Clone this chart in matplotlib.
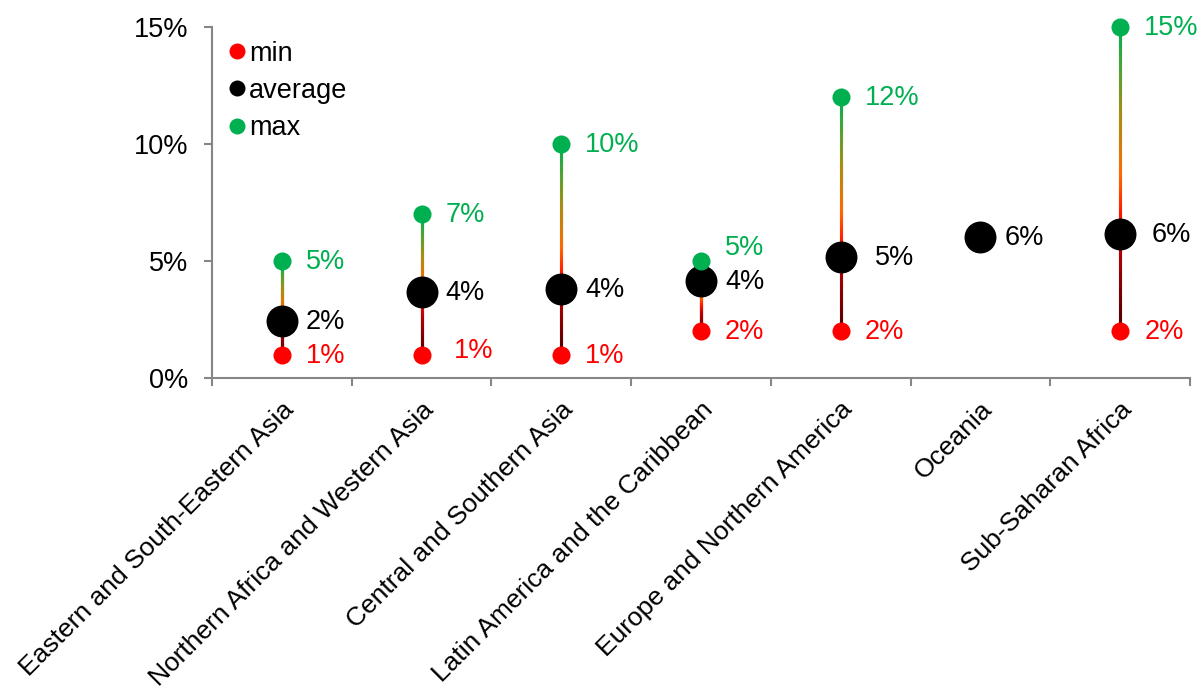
import numpy as np
import matplotlib
matplotlib.use('Agg')
import matplotlib.pyplot as plt
from matplotlib.collections import LineCollection
from matplotlib.colors import LinearSegmentedColormap
from matplotlib.lines import Line2D
import matplotlib.transforms as mtransforms

# ---------------- data ----------------
categories = [
    'Eastern and South-Eastern Asia',
    'Northern Africa and Western Asia',
    'Central and Southern Asia',
    'Latin America and the Caribbean',
    'Europe and Northern America',
    'Oceania',
    'Sub-Saharan Africa',
]
avg_values = [2.44, 3.68, 3.80, 4.15, 5.17, 6.03, 6.15]
min_values = [1.0, 1.0, 1.0, 2.0, 2.0, np.nan, 2.0]
max_values = [5.0, 7.0, 10.0, 5.0, 12.0, np.nan, 15.0]
y_ticks = [0, 5, 10, 15]
y_tick_labels = ['0%', '5%', '10%', '15%']
series_names = ['min', 'average', 'max']

# ---------------- style ----------------
RED = '#ff0000'
GREEN = '#00b050'
BLACK = '#000000'
AXIS = '#868686'
FS = 19.5
XFS = 19

plt.rcParams['font.family'] = ['Liberation Sans', 'DejaVu Sans']

fig = plt.figure(figsize=(12.01, 6.90), dpi=100)
W, H = 1201, 690
ax = fig.add_axes([212 / W, 1 - 378 / H, (1190 - 212) / W, (378 - 27) / H])

x = np.arange(len(categories))

# gradient connector lines (min -> max)
cmap = LinearSegmentedColormap.from_list('grad', [
    (0.00, '#450000'),
    (0.30, '#c00000'),
    (0.40, '#ff1a00'),
    (0.52, '#ff6a00'),
    (0.70, '#b08a10'),
    (0.85, '#5aa030'),
    (1.00, GREEN),
])
segs, cols = [], []
n = 80
for xi, lo, hi in zip(x, min_values, max_values):
    if np.isnan(lo) or np.isnan(hi):
        continue
    ys = np.linspace(lo, hi, n + 1)
    for k in range(n):
        segs.append([(xi, ys[k]), (xi, ys[k + 1])])
        cols.append(cmap((k + 0.5) / n))
ax.add_collection(LineCollection(segs, colors=cols, linewidths=2.2,
                                 capstyle='projecting', zorder=2))

# markers
ax.plot(x, avg_values, 'o', color=BLACK, ms=23, mec='none', zorder=3,
        clip_on=False)
ax.plot(x, min_values, 'o', color=RED, ms=13, mec='none', zorder=4,
        clip_on=False)
ax.plot(x, max_values, 'o', color=GREEN, ms=13, mec='none', zorder=4,
        clip_on=False)

# data labels
px = 72 / 100.0  # points per pixel
nudges = {
    ('min', 1): (8, 5),
    ('max', 3): (0, 14),
    ('avg', 4): (10, 0),
    ('avg', 6): (7, 0),
}
for name, vals, color in [('min', min_values, RED),
                          ('avg', avg_values, BLACK),
                          ('max', max_values, GREEN)]:
    for i, v in enumerate(vals):
        if np.isnan(v):
            continue
        dx, dy = nudges.get((name, i), (0, 0))
        ax.annotate(f'{int(round(v))}%', xy=(x[i], v),
                    xytext=((24 + dx) * px, (-1 + dy) * px),
                    textcoords='offset points', ha='left', va='center',
                    fontsize=FS, color=color, zorder=5, annotation_clip=False)

# axes
ax.set_xlim(-0.5, len(categories) - 0.5)
ax.set_ylim(0, 15)
ax.set_yticks(y_ticks)
ax.set_yticklabels(y_tick_labels)
ax.set_xticks(x)
ax.set_xticklabels(categories, rotation=45, ha='right', va='center',
                   rotation_mode='anchor')
ax.set_xticks(np.arange(len(categories) + 1) - 0.5, minor=True)

for s in ['top', 'right']:
    ax.spines[s].set_visible(False)
for s in ['left', 'bottom']:
    ax.spines[s].set_color(AXIS)
    ax.spines[s].set_linewidth(1.5)

ax.tick_params(axis='y', direction='out', length=6, width=1.5, color=AXIS,
               pad=11, labelsize=FS)
ax.tick_params(axis='x', which='major', length=0, pad=20, labelsize=XFS)
ax.tick_params(axis='x', which='minor', direction='out', length=6, width=1.5,
               color=AXIS)

offset = mtransforms.ScaledTranslation(8 / 100, 0, fig.dpi_scale_trans)
for lab in ax.get_xticklabels():
    lab.set_transform(lab.get_transform() + offset)

# legend
handles = [Line2D([], [], marker='o', ls='none', color=c, ms=11.5, mec='none')
           for c in (RED, BLACK, GREEN)]
ax.legend(handles, series_names, loc='upper left', bbox_to_anchor=(0.004, 1.0),
          frameon=False, handlelength=0.55, handletextpad=0.18,
          labelspacing=0.42, borderaxespad=0.3, fontsize=FS,
          borderpad=0.2)

fig.savefig('out.png', dpi=100)
